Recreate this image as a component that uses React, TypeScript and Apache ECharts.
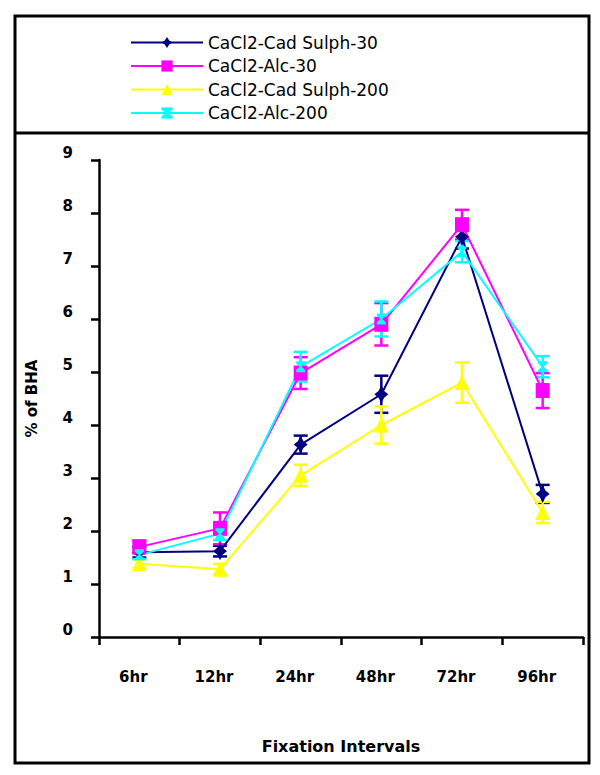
import React, { useEffect, useRef } from "react";
import * as echarts from "echarts";

const categories = ["6hr", "12hr", "24hr", "48hr", "72hr", "96hr"];
const seriesNames = ["CaCl2-Cad Sulph-30", "CaCl2-Alc-30", "CaCl2-Cad Sulph-200", "CaCl2-Alc-200"];
const navyValues = [1.6, 1.62, 3.63, 4.58, 7.55, 2.7];
const navyErr = [0.1, 0.1, 0.17, 0.35, 0.22, 0.17];
const magentaValues = [1.7, 2.05, 4.98, 5.9, 7.78, 4.65];
const magentaErr = [0.12, 0.3, 0.3, 0.4, 0.28, 0.33];
const yellowValues = [1.38, 1.28, 3.05, 4.0, 4.8, 2.35];
const yellowErr = [0.08, 0.1, 0.2, 0.35, 0.38, 0.2];
const cyanValues = [1.55, 1.95, 5.1, 6.0, 7.27, 5.1];
const cyanErr = [0.08, 0.12, 0.28, 0.33, 0.2, 0.2];
const yTicks = [0, 1, 2, 3, 4, 5, 6, 7, 8, 9];

const colors = ["#000080", "#FF00FF", "#FFFF00", "#00FFFF"];
const allValues = [navyValues, magentaValues, yellowValues, cyanValues];
const allErr = [navyErr, magentaErr, yellowErr, cyanErr];
const symbols = [
  "path://M5,0 L7,5 L10,8 L7,11 L5,16 L3,11 L0,8 L3,5 Z",
  "rect",
  "triangle",
  "path://M0,0 L10,0 L10,2 L6,5 L10,8 L10,10 L0,10 L0,8 L4,5 L0,2 Z",
];
const symbolSizes: any[] = [[14, 18], [14, 15], [15, 15], [9, 11]];
const FONT = "DejaVu Sans";

export default function App() {
  const ref = useRef<HTMLDivElement>(null);
  useEffect(() => {
    if (!ref.current) return;
    const chart = echarts.init(ref.current, null, { renderer: "svg" });
    const lineSeries: any[] = seriesNames.map((name, i) => ({
      name,
      type: "line",
      data: allValues[i],
      color: colors[i],
      lineStyle: { width: 2, color: colors[i] },
      itemStyle: { color: colors[i] },
      symbol: symbols[i],
      symbolSize: symbolSizes[i],
      z: 3,
    }));
    const errSeries: any[] = seriesNames.map((name, i) => ({
      type: "custom",
      name: name + "-err",
      data: allValues[i].map((v, j) => [j, v - allErr[i][j], v + allErr[i][j]]),
      z: 2,
      renderItem: (params: any, api: any) => {
        const x = api.value(0);
        const lo = api.coord([x, api.value(1)]);
        const hi = api.coord([x, api.value(2)]);
        const hw = 7;
        const st = { stroke: colors[i], lineWidth: 2.5 };
        return {
          type: "group",
          children: [
            { type: "line", shape: { x1: lo[0], y1: lo[1], x2: hi[0], y2: hi[1] }, style: st },
            { type: "line", shape: { x1: lo[0] - hw, y1: lo[1], x2: lo[0] + hw, y2: lo[1] }, style: st },
            { type: "line", shape: { x1: hi[0] - hw, y1: hi[1], x2: hi[0] + hw, y2: hi[1] }, style: st },
          ],
        };
      },
    }));
    chart.setOption({
      animation: false,
      backgroundColor: "#ffffff",
      textStyle: { fontFamily: FONT },
      legend: {
        data: seriesNames,
        orient: "vertical",
        left: 125,
        top: 29,
        itemWidth: 72,
        itemHeight: 14,
        itemGap: 6.5,
        textStyle: { fontFamily: FONT, fontSize: 17, color: "#000", lineHeight: 17 },
      },
      grid: { left: 99, right: 17, top: 160, bottom: 138 },
      xAxis: {
        type: "category",
        data: categories,
        boundaryGap: true,
        name: "Fixation Intervals",
        nameLocation: "middle",
        nameGap: 101,
        nameTextStyle: { fontFamily: FONT, fontSize: 16, fontWeight: "bold", color: "#000" },
        axisLine: { lineStyle: { color: "#000", width: 2.5 } },
        axisTick: { show: true, length: 8, lineStyle: { color: "#000", width: 2.5 }, alignWithLabel: false },
        axisLabel: { color: "#000", fontFamily: FONT, fontSize: 15, fontWeight: "bold", margin: 32, padding: [0, 12, 0, 0] },
        splitLine: { show: false },
      },
      yAxis: {
        type: "value",
        min: yTicks[0],
        max: yTicks[yTicks.length - 1],
        interval: 1,
        name: "% of BHA",
        nameLocation: "middle",
        nameRotate: 90,
        nameGap: 60,
        nameTextStyle: { fontFamily: FONT, fontSize: 15, fontWeight: "bold", color: "#000" },
        axisLine: { show: true, lineStyle: { color: "#000", width: 2.5 } },
        axisTick: { show: true, length: 8, lineStyle: { color: "#000", width: 2.5 } },
        axisLabel: { color: "#000", fontFamily: FONT, fontSize: 15, fontWeight: "bold", margin: 26, verticalAlign: "bottom" },
        splitLine: { show: false },
      },
      graphic: [
        { type: "rect", shape: { x: 15, y: 16, width: 574, height: 747 }, style: { fill: "none", stroke: "#000", lineWidth: 3 }, z: 100 },
        { type: "line", shape: { x1: 15, y1: 133, x2: 589, y2: 133 }, style: { stroke: "#000", lineWidth: 3 }, z: 100 },
      ],
      series: [...errSeries, ...lineSeries],
    });
    return () => chart.dispose();
  }, []);
  return <div ref={ref} style={{ width: 600, height: 775, position: "absolute", left: 0, top: 0 }} />;
}
